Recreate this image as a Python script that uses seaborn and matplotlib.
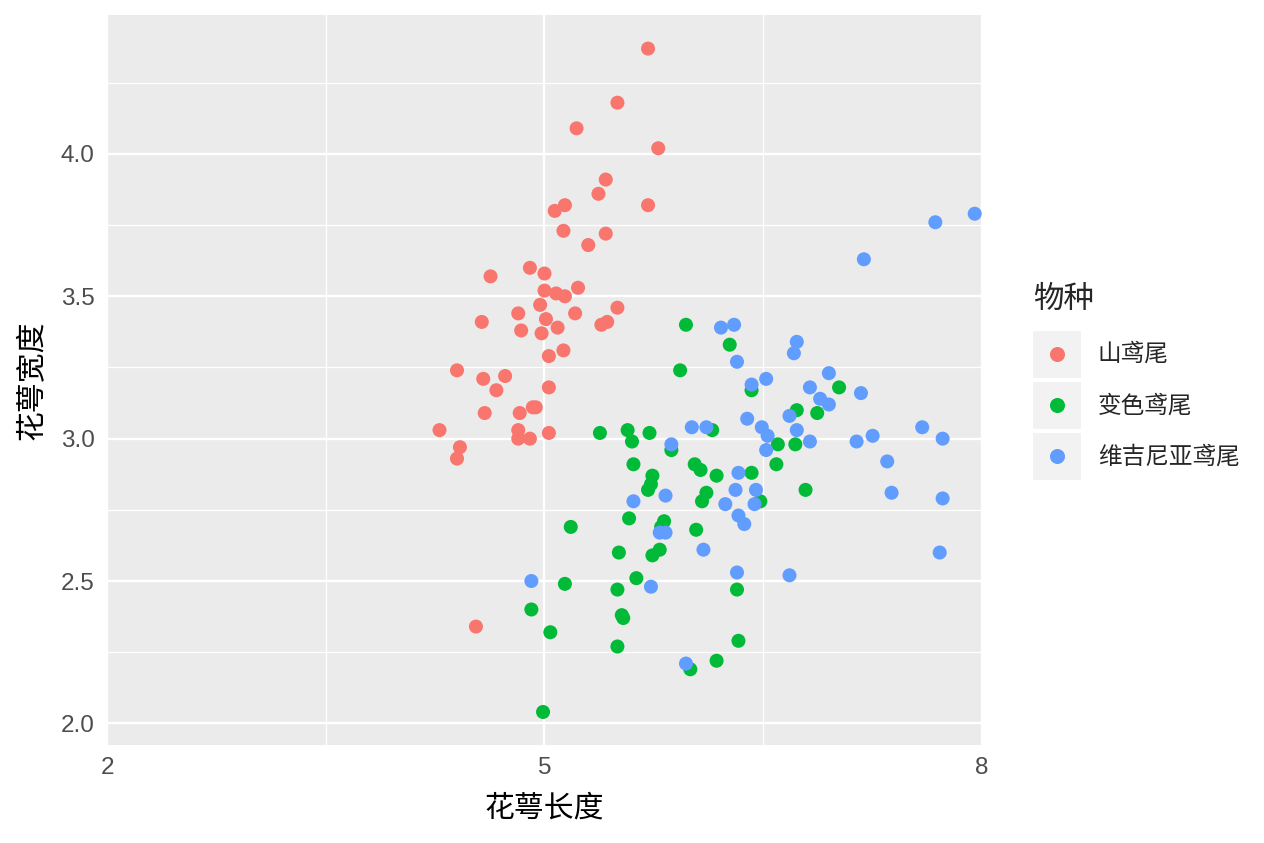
import pandas as pd
import seaborn as sns
import matplotlib.pyplot as plt
from matplotlib.lines import Line2D
from matplotlib.patches import Rectangle
from matplotlib.legend_handler import HandlerBase

# species names and colours (ggplot default hue palette)
species = ['山鸢尾', '变色鸢尾', '维吉尼亚鸢尾']
colors = ['#F8766D', '#00BA38', '#619CFF']

# jittered sepal length / width
setosa_len = [5.71, 5.50, 5.22, 5.78, 5.42, 5.37, 5.14, 5.07, 5.71, 5.13,
              5.42, 5.30, 4.90, 4.63, 5.00, 5.00, 5.08, 5.14, 5.23, 4.97,
              4.82, 5.01, 4.57, 4.84, 4.98, 5.09, 5.21, 5.39, 5.43, 5.50,
              5.13, 5.03, 4.40, 4.58, 4.73, 4.67, 5.03, 4.59, 4.83, 4.92,
              4.94, 4.28, 4.82, 4.82, 4.90, 5.03, 4.42, 4.40, 4.53]
setosa_wid = [4.37, 4.18, 4.09, 4.02, 3.91, 3.86, 3.82, 3.80, 3.82, 3.73,
              3.72, 3.68, 3.60, 3.57, 3.58, 3.52, 3.51, 3.50, 3.53, 3.47,
              3.44, 3.42, 3.41, 3.38, 3.37, 3.39, 3.44, 3.40, 3.41, 3.46,
              3.31, 3.29, 3.24, 3.21, 3.22, 3.17, 3.18, 3.09, 3.09, 3.11,
              3.11, 3.03, 3.03, 3.00, 3.00, 3.02, 2.97, 2.93, 2.34]

versi_len = [5.97, 6.27, 5.93, 6.42, 7.02, 6.73, 6.87, 6.15, 6.72, 6.60,
             6.59, 6.03, 6.07, 6.18, 6.42, 6.11, 6.08, 6.48, 6.79, 6.04,
             6.32, 6.33, 6.18, 6.00, 5.38, 5.57, 5.60, 5.72, 5.87, 5.61,
             5.74, 5.73, 5.71, 5.58, 5.82, 5.80, 5.18, 5.51, 5.74, 5.79,
             5.14, 5.63, 5.50, 4.91, 5.04, 5.53, 5.54, 5.50, 4.99]
versi_wid = [3.40, 3.33, 3.24, 3.17, 3.18, 3.10, 3.09, 3.03, 2.98, 2.98,
             2.91, 2.91, 2.89, 2.87, 2.88, 2.81, 2.78, 2.78, 2.82, 2.68,
             2.47, 2.29, 2.22, 2.19, 3.02, 3.03, 2.99, 3.02, 2.96, 2.91,
             2.87, 2.84, 2.82, 2.72, 2.71, 2.69, 2.69, 2.60, 2.59, 2.61,
             2.49, 2.51, 2.47, 2.40, 2.32, 2.38, 2.37, 2.27, 2.04]

virg_len = [6.21, 6.30, 6.32, 6.73, 6.71, 6.95, 6.52, 6.42, 6.82, 7.17,
            6.89, 6.95, 6.68, 6.39, 6.01, 6.11, 6.73, 6.49, 6.53, 6.82,
            6.52, 5.87, 6.33, 6.31, 6.45, 6.24, 6.44, 6.33, 6.37, 6.09,
            6.32, 6.68, 5.97, 7.68, 7.95, 7.19, 7.59, 7.73, 7.14, 7.25,
            7.35, 7.38, 7.73, 7.71, 5.83, 5.61, 5.79, 5.83, 5.73, 4.91]
virg_wid = [3.39, 3.40, 3.27, 3.34, 3.30, 3.23, 3.21, 3.19, 3.18, 3.16,
            3.14, 3.12, 3.08, 3.07, 3.04, 3.04, 3.03, 3.04, 3.01, 2.99,
            2.96, 2.98, 2.88, 2.82, 2.82, 2.77, 2.77, 2.73, 2.70, 2.61,
            2.53, 2.52, 2.21, 3.76, 3.79, 3.63, 3.04, 3.00, 2.99, 3.01,
            2.92, 2.81, 2.79, 2.60, 2.80, 2.78, 2.67, 2.67, 2.48, 2.50]

df = pd.DataFrame({
    '花萼长度': setosa_len + versi_len + virg_len,
    '花萼宽度': setosa_wid + versi_wid + virg_wid,
    '物种': ([species[0]] * len(setosa_len) + [species[1]] * len(versi_len)
           + [species[2]] * len(virg_len)),
})

sns.set_style('white')
plt.rcParams['font.family'] = ['Liberation Sans', 'Noto Sans CJK SC', 'DejaVu Sans']

fig = plt.figure(figsize=(12.64, 8.43), dpi=100)
ax = fig.add_axes([107 / 1264, 98 / 843, 875 / 1264, 730 / 843])
ax.set_facecolor('#EBEBEB')

sns.scatterplot(data=df, x='花萼长度', y='花萼宽度', hue='物种',
                hue_order=species, palette=colors, s=102, linewidth=0,
                alpha=1, legend=False, ax=ax, zorder=3)

ax.set_xlim(2, 8)
ax.set_ylim(1.924, 4.488)
ax.set_xticks([2, 5, 8])
ax.set_xticklabels(['2', '5', '8'])
ax.set_xticks([3.5, 6.5], minor=True)
ax.set_yticks([2.0, 2.5, 3.0, 3.5, 4.0])
ax.set_yticklabels(['2.0', '2.5', '3.0', '3.5', '4.0'])
ax.set_yticks([2.25, 2.75, 3.25, 3.75, 4.25], minor=True)
ax.grid(which='major', color='white', linewidth=1.7, zorder=0)
ax.grid(which='minor', color='white', linewidth=0.9, zorder=0)
ax.set_axisbelow(True)
for sp in ax.spines.values():
    sp.set_visible(False)

ax.tick_params(which='major', length=5, width=1.1, color='#333333',
               labelsize=17.5, labelcolor='#4D4D4D', pad=4)
ax.tick_params(which='minor', length=0)
ax.set_xlabel('花萼长度', fontsize=21.5, color='black', labelpad=11)
ax.set_ylabel('花萼宽度', fontsize=21.5, color='black', labelpad=10)


class KeyHandler(HandlerBase):
    # grey key box with a dot, like ggplot legend keys
    def create_artists(self, legend, orig_handle, xdescent, ydescent,
                       width, height, fontsize, trans):
        box = Rectangle((-xdescent, -ydescent), width, height,
                        facecolor='#F2F2F2', edgecolor='none', transform=trans)
        dot = Line2D([width / 2 - xdescent], [height / 2 - ydescent],
                     marker='o', markersize=9.8, linestyle='none',
                     color=orig_handle.get_color(), transform=trans)
        return [box, dot]


handles = [Line2D([], [], marker='o', linestyle='none', color=c) for c in colors]
leg = fig.legend(handles, species, title='物种', loc='center left',
                 bbox_to_anchor=(1033 / 1264, 1 - 382.5 / 843), frameon=False,
                 fontsize=17, title_fontsize=22, handlelength=2.03,
                 handleheight=2.69, labelspacing=0.17, handletextpad=0.72,
                 borderpad=0, borderaxespad=0, alignment='left',
                 handler_map={Line2D: KeyHandler()})
leg._legend_box.sep = 11

fig.savefig('out.png', dpi=100, facecolor='white')
